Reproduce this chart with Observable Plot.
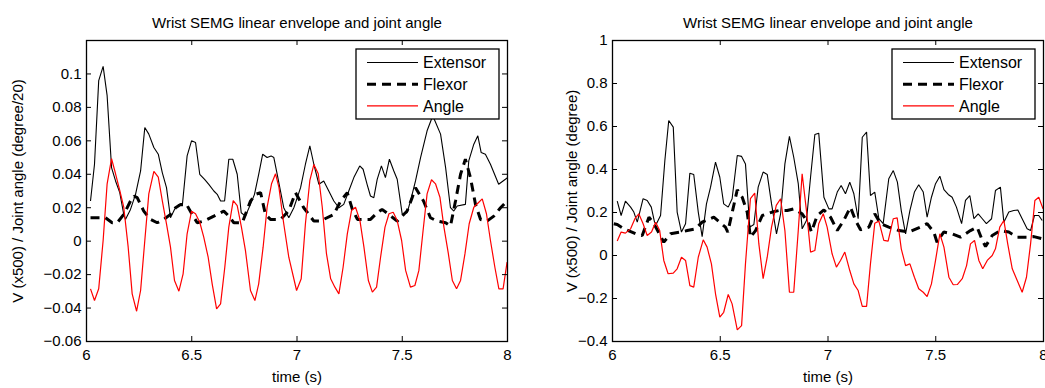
<!DOCTYPE html>
<html><head><meta charset="utf-8">
<script src="https://cdn.jsdelivr.net/npm/d3@7"></script>
<script src="https://cdn.jsdelivr.net/npm/@observablehq/plot@0.6"></script>
<style>
html,body{margin:0;padding:0;background:#fff;}
#wrap{display:flex;width:1045px;height:388px;overflow:hidden;}
#wrap svg{display:block;overflow:visible;}
</style></head><body><div id="wrap"></div>
<script>
const titleText = "Wrist SEMG linear envelope and joint angle";
const xLabel = "time (s)";
const seriesNames = ["Extensor", "Flexor", "Angle"];
const xTicks = [6, 6.5, 7, 7.5, 8];
const leftYTicks = [-0.06, -0.04, -0.02, 0, 0.02, 0.04, 0.06, 0.08, 0.1];
const rightYTicks = [-0.4, -0.2, 0, 0.2, 0.4, 0.6, 0.8, 1];
const leftYLabel = "V (x500) / Joint angle (degree/20)";
const rightYLabel = "V (x500) / Joint angle (degree)";

// Left panel: [time, value]
const leftExtensor = [[6.019,0.024],[6.038,0.046],[6.058,0.096],[6.079,0.1045],[6.098,0.087],[6.119,0.044],[6.138,0.036],[6.158,0.029],[6.177,0.016],[6.185,0.013],[6.209,0.019],[6.233,0.028],[6.257,0.042],[6.277,0.068],[6.296,0.064],[6.320,0.056],[6.341,0.052],[6.360,0.041],[6.380,0.032],[6.399,0.014],[6.418,0.019],[6.439,0.022],[6.455,0.021],[6.478,0.051],[6.499,0.060],[6.518,0.059],[6.538,0.040],[6.561,0.037],[6.581,0.034],[6.605,0.030],[6.621,0.028],[6.637,0.024],[6.656,0.024],[6.676,0.049],[6.695,0.049],[6.716,0.040],[6.735,0.017],[6.755,0.015],[6.779,0.022],[6.798,0.028],[6.818,0.040],[6.837,0.052],[6.858,0.050],[6.877,0.051],[6.890,0.050],[6.906,0.040],[6.937,0.020],[6.961,0.014],[6.985,0.020],[7.017,0.032],[7.040,0.046],[7.061,0.057],[7.080,0.046],[7.104,0.034],[7.127,0.036],[7.151,0.030],[7.175,0.024],[7.199,0.020],[7.222,0.022],[7.246,0.030],[7.270,0.038],[7.298,0.045],[7.314,0.043],[7.333,0.034],[7.349,0.027],[7.365,0.026],[7.381,0.037],[7.401,0.045],[7.420,0.038],[7.439,0.049],[7.460,0.042],[7.476,0.037],[7.500,0.016],[7.523,0.017],[7.539,0.024],[7.563,0.036],[7.587,0.050],[7.618,0.066],[7.645,0.075],[7.682,0.064],[7.706,0.044],[7.729,0.020],[7.745,0.018],[7.761,0.021],[7.800,0.022],[7.816,0.048],[7.840,0.058],[7.859,0.063],[7.875,0.053],[7.895,0.052],[7.919,0.046],[7.958,0.034],[7.990,0.037],[8.0,0.038]];
const leftFlexor = [[6.019,0.014],[6.090,0.014],[6.122,0.011],[6.146,0.011],[6.177,0.016],[6.209,0.024],[6.225,0.027],[6.241,0.026],[6.272,0.018],[6.304,0.013],[6.336,0.011],[6.367,0.013],[6.399,0.016],[6.423,0.020],[6.447,0.022],[6.475,0.022],[6.502,0.016],[6.526,0.011],[6.557,0.012],[6.605,0.015],[6.652,0.018],[6.676,0.015],[6.700,0.011],[6.740,0.011],[6.779,0.024],[6.803,0.028],[6.827,0.029],[6.850,0.016],[6.874,0.013],[6.922,0.013],[6.960,0.018],[6.993,0.029],[7.032,0.020],[7.080,0.012],[7.110,0.012],[7.175,0.016],[7.207,0.024],[7.239,0.029],[7.263,0.019],[7.287,0.013],[7.349,0.013],[7.381,0.017],[7.404,0.019],[7.436,0.016],[7.476,0.012],[7.523,0.018],[7.547,0.026],[7.563,0.032],[7.601,0.024],[7.634,0.014],[7.666,0.012],[7.706,0.011],[7.729,0.009],[7.753,0.024],[7.777,0.040],[7.800,0.049],[7.824,0.038],[7.848,0.022],[7.872,0.013],[7.903,0.012],[7.935,0.015],[7.967,0.020],[7.998,0.024]];
const leftAngle = [[6.019,-0.0285],[6.038,-0.0355],[6.058,-0.0285],[6.079,0.0004],[6.098,0.0343],[6.119,0.0493],[6.138,0.0403],[6.158,0.0303],[6.177,0.0203],[6.198,-0.0036],[6.217,-0.0315],[6.238,-0.0419],[6.257,-0.0295],[6.277,0.0004],[6.296,0.0283],[6.320,0.0417],[6.341,0.0383],[6.360,0.0243],[6.380,0.0104],[6.399,-0.0036],[6.418,-0.0235],[6.439,-0.0299],[6.459,-0.0195],[6.478,0.0044],[6.499,0.0179],[6.518,0.0164],[6.538,0.0113],[6.557,0.0024],[6.578,-0.0096],[6.597,-0.0255],[6.618,-0.0405],[6.637,-0.0375],[6.657,-0.0156],[6.676,0.0084],[6.697,0.0243],[6.716,0.0213],[6.736,0.0084],[6.755,-0.0055],[6.779,-0.0295],[6.800,-0.0355],[6.818,-0.0255],[6.839,-0.0036],[6.858,0.0203],[6.879,0.0343],[6.898,0.0403],[6.914,0.0323],[6.937,0.0104],[6.961,-0.0096],[6.998,-0.0295],[7.020,-0.0225],[7.040,0.0104],[7.061,0.0363],[7.080,0.0458],[7.101,0.0403],[7.120,0.0203],[7.140,-0.0075],[7.160,-0.0225],[7.180,-0.0275],[7.199,-0.0315],[7.219,-0.0156],[7.239,0.0044],[7.259,0.0183],[7.278,0.0203],[7.299,0.0123],[7.318,-0.0036],[7.339,-0.0235],[7.358,-0.0305],[7.378,-0.0275],[7.397,-0.0096],[7.418,0.0084],[7.437,0.0164],[7.457,0.0173],[7.476,0.0123],[7.497,0.0004],[7.516,-0.0175],[7.539,-0.0275],[7.560,-0.0265],[7.579,-0.0175],[7.599,0.0064],[7.618,0.0283],[7.639,0.0367],[7.658,0.0343],[7.679,0.0263],[7.698,0.0084],[7.719,-0.0075],[7.738,-0.0235],[7.758,-0.0285],[7.777,-0.0235],[7.798,-0.0075],[7.818,0.0104],[7.840,0.0203],[7.859,0.0227],[7.880,0.0253],[7.900,0.0164],[7.919,0.0004],[7.940,-0.0156],[7.959,-0.0285],[7.979,-0.0285],[7.998,-0.0125]];

// Right panel: [time, value]
const rightExtensor = [[6.022,0.253],[6.040,0.186],[6.060,0.253],[6.084,0.225],[6.099,0.202],[6.115,0.155],[6.142,0.264],[6.161,0.256],[6.180,0.225],[6.195,0.155],[6.204,0.148],[6.223,0.186],[6.243,0.442],[6.261,0.628],[6.282,0.597],[6.300,0.202],[6.320,0.109],[6.339,0.148],[6.359,0.383],[6.377,0.377],[6.398,0.202],[6.416,0.088],[6.436,0.240],[6.455,0.318],[6.478,0.434],[6.498,0.364],[6.516,0.240],[6.537,0.225],[6.555,0.264],[6.579,0.465],[6.599,0.461],[6.617,0.426],[6.637,0.132],[6.656,0.144],[6.676,0.318],[6.699,0.388],[6.718,0.377],[6.738,0.240],[6.761,0.101],[6.780,0.194],[6.800,0.426],[6.821,0.554],[6.841,0.457],[6.862,0.334],[6.880,0.124],[6.900,0.163],[6.919,0.364],[6.939,0.563],[6.957,0.569],[6.981,0.271],[7.004,0.217],[7.019,0.217],[7.043,0.295],[7.061,0.326],[7.081,0.287],[7.101,0.341],[7.120,0.287],[7.140,0.171],[7.159,0.550],[7.179,0.574],[7.197,0.279],[7.217,0.295],[7.236,0.171],[7.256,0.148],[7.282,0.357],[7.303,0.395],[7.322,0.341],[7.340,0.209],[7.360,0.101],[7.380,0.209],[7.401,0.295],[7.421,0.329],[7.442,0.295],[7.460,0.178],[7.480,0.271],[7.499,0.334],[7.519,0.369],[7.538,0.306],[7.558,0.284],[7.576,0.271],[7.596,0.225],[7.620,0.148],[7.638,0.256],[7.658,0.279],[7.677,0.171],[7.697,0.194],[7.716,0.171],[7.735,0.148],[7.759,0.171],[7.777,0.302],[7.800,0.318],[7.816,0.155],[7.839,0.202],[7.862,0.209],[7.881,0.212],[7.901,0.171],[7.924,0.124],[7.940,0.116],[7.958,0.186],[7.978,0.186],[7.994,0.163]];
const rightFlexor = [[6.006,0.148],[6.022,0.144],[6.053,0.124],[6.107,0.101],[6.138,0.093],[6.169,0.178],[6.192,0.148],[6.238,0.062],[6.269,0.101],[6.316,0.109],[6.347,0.116],[6.385,0.124],[6.416,0.155],[6.470,0.178],[6.524,0.132],[6.535,0.109],[6.579,0.306],[6.602,0.271],[6.625,0.202],[6.640,0.085],[6.664,0.116],[6.695,0.186],[6.741,0.202],[6.772,0.209],[6.811,0.209],[6.841,0.217],[6.880,0.194],[6.911,0.148],[6.923,0.109],[6.950,0.186],[6.981,0.212],[7.012,0.178],[7.043,0.116],[7.073,0.163],[7.104,0.225],[7.128,0.163],[7.151,0.120],[7.190,0.132],[7.217,0.194],[7.244,0.148],[7.282,0.132],[7.329,0.116],[7.375,0.109],[7.429,0.132],[7.460,0.148],[7.491,0.109],[7.506,0.062],[7.537,0.109],[7.576,0.101],[7.615,0.085],[7.661,0.116],[7.692,0.132],[7.716,0.070],[7.731,0.042],[7.762,0.093],[7.800,0.116],[7.839,0.109],[7.878,0.085],[7.924,0.085],[7.955,0.088],[7.994,0.078]];
const rightAngle = [[6.022,0.067],[6.040,0.109],[6.060,0.104],[6.084,0.124],[6.104,0.171],[6.122,0.194],[6.142,0.148],[6.161,0.093],[6.181,0.109],[6.200,0.155],[6.219,0.116],[6.238,-0.023],[6.258,-0.085],[6.282,-0.082],[6.300,-0.062],[6.320,-0.008],[6.339,-0.023],[6.359,-0.140],[6.377,-0.147],[6.398,-0.008],[6.421,0.073],[6.439,0.039],[6.459,-0.039],[6.478,-0.178],[6.498,-0.287],[6.516,-0.264],[6.537,-0.181],[6.555,-0.225],[6.579,-0.346],[6.599,-0.326],[6.617,-0.039],[6.640,0.264],[6.660,0.290],[6.679,0.055],[6.699,-0.108],[6.718,-0.008],[6.738,0.132],[6.760,0.233],[6.780,0.264],[6.800,0.116],[6.821,-0.171],[6.841,-0.171],[6.862,0.116],[6.880,0.380],[6.900,0.209],[6.919,0.016],[6.939,0.023],[6.957,0.148],[6.978,0.194],[6.996,0.132],[7.019,0.008],[7.039,-0.054],[7.058,-0.023],[7.078,0.016],[7.101,-0.070],[7.120,-0.132],[7.140,-0.163],[7.159,-0.237],[7.179,-0.237],[7.197,-0.039],[7.217,0.150],[7.236,0.160],[7.259,0.070],[7.279,0.067],[7.303,0.171],[7.321,0.175],[7.340,0.031],[7.360,-0.047],[7.380,-0.039],[7.401,-0.101],[7.421,-0.155],[7.442,-0.171],[7.460,-0.191],[7.480,-0.132],[7.499,-0.023],[7.519,0.101],[7.538,0.039],[7.561,-0.101],[7.581,-0.136],[7.600,-0.135],[7.623,-0.108],[7.643,-0.047],[7.661,0.054],[7.680,0.070],[7.700,-0.023],[7.718,-0.062],[7.739,-0.023],[7.762,0.000],[7.777,0.031],[7.797,0.132],[7.816,0.163],[7.834,0.054],[7.855,-0.062],[7.878,-0.116],[7.901,-0.171],[7.921,-0.101],[7.940,0.054],[7.960,0.256],[7.978,0.271],[7.998,0.217]];

const FONT = "'Liberation Sans', Arial, Helvetica, sans-serif";
const lineStyles = [
  {stroke: "#000000", strokeWidth: 1.1, dash: null},
  {stroke: "#000000", strokeWidth: 3, dash: "9,6"},
  {stroke: "#ff0000", strokeWidth: 1.2, dash: null}
];
const fmt = d => String(d).replace("-", "\u2212");

function panel(cfg) {
  const height = 388, marginTop = 40, marginBottom = 47;
  const innerH = height - marginTop - marginBottom;
  const innerW = cfg.width - cfg.marginLeft - cfg.marginRight;
  const rows = a => a.map(([t, v]) => ({t, v}));
  const series = [cfg.ext, cfg.flex, cfg.ang];
  const svg = Plot.plot({
    width: cfg.width, height, marginTop, marginBottom,
    marginLeft: cfg.marginLeft, marginRight: cfg.marginRight,
    style: {fontFamily: FONT, fontSize: "15px", color: "#000", background: "#fff", overflow: "visible"},
    x: {domain: [6, 8]},
    y: {domain: cfg.yDomain},
    marks: [
      ...series.map((s, i) => Plot.line(rows(s), {
        x: "t", y: "v", stroke: lineStyles[i].stroke, strokeWidth: lineStyles[i].strokeWidth,
        strokeDasharray: lineStyles[i].dash || undefined, strokeLinejoin: "miter", strokeLinecap: "butt"
      })),
      Plot.ruleX(xTicks, {x: d => d, insetTop: innerH - 5, stroke: "#000"}),
      Plot.ruleX(xTicks, {x: d => d, insetBottom: innerH - 5, stroke: "#000"}),
      Plot.ruleY(cfg.yTicks, {y: d => d, insetRight: innerW - 5, stroke: "#000"}),
      Plot.ruleY(cfg.yTicks, {y: d => d, insetLeft: innerW - 5, stroke: "#000"}),
      Plot.frame({stroke: "#000", strokeWidth: 1.3}),
      Plot.axisX({ticks: xTicks, tickSize: 0, tickPadding: 8, label: null, tickFormat: fmt}),
      Plot.axisY({ticks: cfg.yTicks, tickSize: 0, tickPadding: 5, label: null, tickFormat: fmt}),
      Plot.text([xLabel], {text: d => d, frameAnchor: "bottom", dy: 40}),
      Plot.text([cfg.yLabel], {text: d => d, frameAnchor: "left", textAnchor: "middle", rotate: -90, dx: cfg.yLabelDx}),
      Plot.text([titleText], {text: d => d, frameAnchor: "top", dy: -23})
    ]
  });
  // legend box (top-right inside frame)
  const frameRight = cfg.width - cfg.marginRight;
  const x0 = frameRight - 151, y0 = marginTop + 9;
  const g = d3.select(svg).append("g").attr("font-family", FONT).attr("font-size", 16).attr("text-anchor", "start");
  g.append("rect").attr("x", x0).attr("y", y0).attr("width", 143).attr("height", 70)
    .attr("fill", "#fff").attr("stroke", "#000").attr("stroke-width", 1.3);
  seriesNames.forEach((name, i) => {
    const cy = y0 + 13.5 + i * 21.7;
    const ln = g.append("line").attr("x1", x0 + 11).attr("x2", x0 + 62).attr("y1", cy).attr("y2", cy)
      .attr("stroke", lineStyles[i].stroke).attr("stroke-width", lineStyles[i].strokeWidth);
    if (lineStyles[i].dash) ln.attr("stroke-dasharray", lineStyles[i].dash);
    g.append("text").attr("x", x0 + 67).attr("y", cy).attr("dy", "0.35em")
      .attr("text-anchor", "start").attr("fill", "#000").text(name);
  });
  return svg;
}

const wrap = document.getElementById("wrap");
wrap.appendChild(panel({
  width: 522, marginLeft: 86, marginRight: 15, yDomain: [-0.06, 0.12], yTicks: leftYTicks,
  yLabel: leftYLabel, yLabelDx: -68, ext: leftExtensor, flex: leftFlexor, ang: leftAngle
}));
wrap.appendChild(panel({
  width: 523, marginLeft: 90, marginRight: 2, yDomain: [-0.4, 1], yTicks: rightYTicks,
  yLabel: rightYLabel, yLabelDx: -40, ext: rightExtensor, flex: rightFlexor, ang: rightAngle
}));
</script></body></html>
